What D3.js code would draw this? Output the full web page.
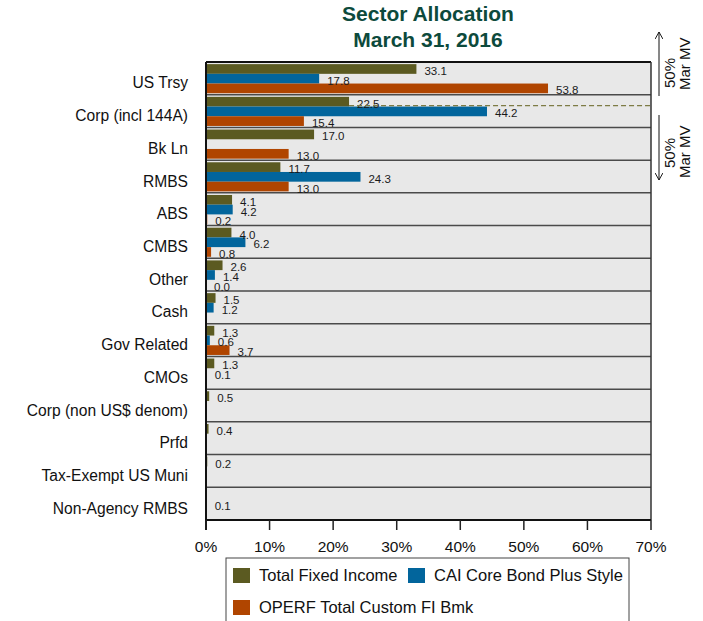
<!DOCTYPE html>
<html><head><meta charset="utf-8">
<script src="https://cdn.jsdelivr.net/npm/d3@7"></script>
<style>body{margin:0;background:#fff;} svg{display:block;font-family:Arial,"Liberation Sans",sans-serif;}</style>
</head><body>
<svg id="chart" width="703" height="621"></svg>
<script>
const categories = ["US Trsy","Corp (incl 144A)","Bk Ln","RMBS","ABS","CMBS","Other","Cash","Gov Related","CMOs","Corp (non US$ denom)","Prfd","Tax-Exempt US Muni","Non-Agency RMBS"];
const totalFixedIncome = [33.1,22.5,17.0,11.7,4.1,4.0,2.6,1.5,1.3,1.3,0.5,0.4,0.2,null];
const caiCoreBondPlus = [17.8,44.2,null,24.3,4.2,6.2,1.4,1.2,0.6,0.1,null,null,null,0.1];
const operfCustomBmk = [53.8,15.4,13.0,13.0,0.2,0.8,0.0,null,3.7,null,null,null,null,null];
const seriesNames = ["Total Fixed Income","CAI Core Bond Plus Style","OPERF Total Custom FI Bmk"];
const seriesColors = ["#5b5a21","#02659c","#b04500"];
const xTicks = [0,10,20,30,40,50,60,70];
const titleLines = ["Sector Allocation","March 31, 2016"];

const svg = d3.select("#chart");
const L=206, R=651, T=62, B=520;
const x = d3.scaleLinear().domain([0,70]).range([L,R]);
const y = d3.scaleBand().domain(categories).range([T,B]).paddingInner(0).paddingOuter(0);
const bw = y.bandwidth();
const sub = d3.scaleBand().domain([0,1,2]).range([bw*0.065, bw*0.955]).padding(0);
const bh = sub.bandwidth();

// title
svg.selectAll("text.title").data(titleLines).join("text")
  .attr("x",428).attr("y",(d,i)=>21+i*26).attr("text-anchor","middle")
  .attr("font-size",21).attr("font-weight","bold").attr("fill","#0d4a3c").text(d=>d);

// background
svg.append("rect").attr("x",L).attr("y",T).attr("width",R-L).attr("height",B-T).attr("fill","#e8e8e8");

// row separators
svg.selectAll("line.sep").data(categories.slice(1)).join("line")
  .attr("x1",L).attr("x2",R).attr("y1",d=>y(d)).attr("y2",d=>y(d))
  .attr("stroke","#4a4a4a").attr("stroke-width",1.5);

const series = [totalFixedIncome, caiCoreBondPlus, operfCustomBmk];
const g = svg.append("g");
series.forEach((vals,si)=>{
  const data = categories.map((c,i)=>({c, v: vals[i]})).filter(d=>d.v!==null);
  g.selectAll("rect.s"+si).data(data).join("rect")
    .attr("x",x(0)).attr("y",d=>y(d.c)+sub(si)).attr("width",d=>x(d.v)-x(0)).attr("height",bh)
    .attr("fill",seriesColors[si]);
});
// dashed line on Corp row
svg.append("line").attr("x1",x(totalFixedIncome[1])).attr("x2",R)
  .attr("y1",y(categories[1])+sub(0)+bh*0.9).attr("y2",y(categories[1])+sub(0)+bh*0.9)
  .attr("stroke","#7d7b45").attr("stroke-width",1.2).attr("stroke-dasharray","5,3");
series.forEach((vals,si)=>{
  const data = categories.map((c,i)=>({c, v: vals[i]})).filter(d=>d.v!==null);
  g.selectAll("text.s"+si).data(data).join("text")
    .attr("x",d=>x(d.v)+8).attr("y",d=>y(d.c)+sub(si)+bh/2+6)
    .attr("font-size",11.5).attr("fill","#1a1a1a").text(d=>d.v.toFixed(1));
});

// borders
svg.append("line").attr("x1",L).attr("x2",R).attr("y1",T).attr("y2",T).attr("stroke","#111").attr("stroke-width",2);
svg.append("line").attr("x1",R).attr("x2",R).attr("y1",T).attr("y2",B).attr("stroke","#333").attr("stroke-width",1.5);
svg.append("line").attr("x1",L).attr("x2",R).attr("y1",B).attr("y2",B).attr("stroke","#111").attr("stroke-width",2);
svg.append("line").attr("x1",L).attr("x2",L).attr("y1",T).attr("y2",B+10).attr("stroke","#111").attr("stroke-width",2);

// x ticks
svg.selectAll("line.tick").data(xTicks).join("line")
  .attr("x1",d=>x(d)).attr("x2",d=>x(d)).attr("y1",B).attr("y2",B+10).attr("stroke","#222").attr("stroke-width",1.5);
svg.selectAll("text.tick").data(xTicks).join("text")
  .attr("x",d=>x(d)).attr("y",552).attr("text-anchor","middle").attr("font-size",15.5).attr("fill","#111").text(d=>d+"%");

// category labels
svg.selectAll("text.cat").data(categories).join("text")
  .attr("x",188).attr("y",d=>y(d)+bw/2+10).attr("text-anchor","end").attr("font-size",15.6).attr("fill","#111").text(d=>d);

// legend
svg.append("rect").attr("x",226).attr("y",558).attr("width",403).attr("height",70).attr("fill","#fff").attr("stroke","#444").attr("stroke-width",1);
const legPos = [[233,568],[408,568],[233,600]];
seriesNames.forEach((n,i)=>{
  svg.append("rect").attr("x",legPos[i][0]).attr("y",legPos[i][1]).attr("width",17).attr("height",15).attr("fill",seriesColors[i]);
  svg.append("text").attr("x",legPos[i][0]+26).attr("y",legPos[i][1]+13).attr("font-size",16.5).attr("fill","#111").text(n);
});

// right annotations
const defs = svg.append("defs");
defs.append("marker").attr("id","arr").attr("viewBox","0 0 10 10").attr("refX",9).attr("refY",5)
  .attr("markerWidth",8).attr("markerHeight",8).attr("orient","auto-start-reverse")
  .append("path").attr("d","M0,0 L9,5 L0,10").attr("fill","none").attr("stroke","#111").attr("stroke-width",1.2);
svg.append("line").attr("x1",659).attr("x2",659).attr("y1",96).attr("y2",32).attr("stroke","#111").attr("stroke-width",1).attr("marker-end","url(#arr)");
svg.append("line").attr("x1",659).attr("x2",659).attr("y1",115).attr("y2",180).attr("stroke","#111").attr("stroke-width",1).attr("marker-end","url(#arr)");
const ann = [["50%",675,88],["Mar MV",690,90],["50%",675,168],["Mar MV",690,178]];
ann.forEach(a=>{
  svg.append("text").attr("transform",`translate(${a[1]},${a[2]}) rotate(-90)`).attr("font-size",15).attr("fill","#111").text(a[0]);
});
</script>
</body></html>
